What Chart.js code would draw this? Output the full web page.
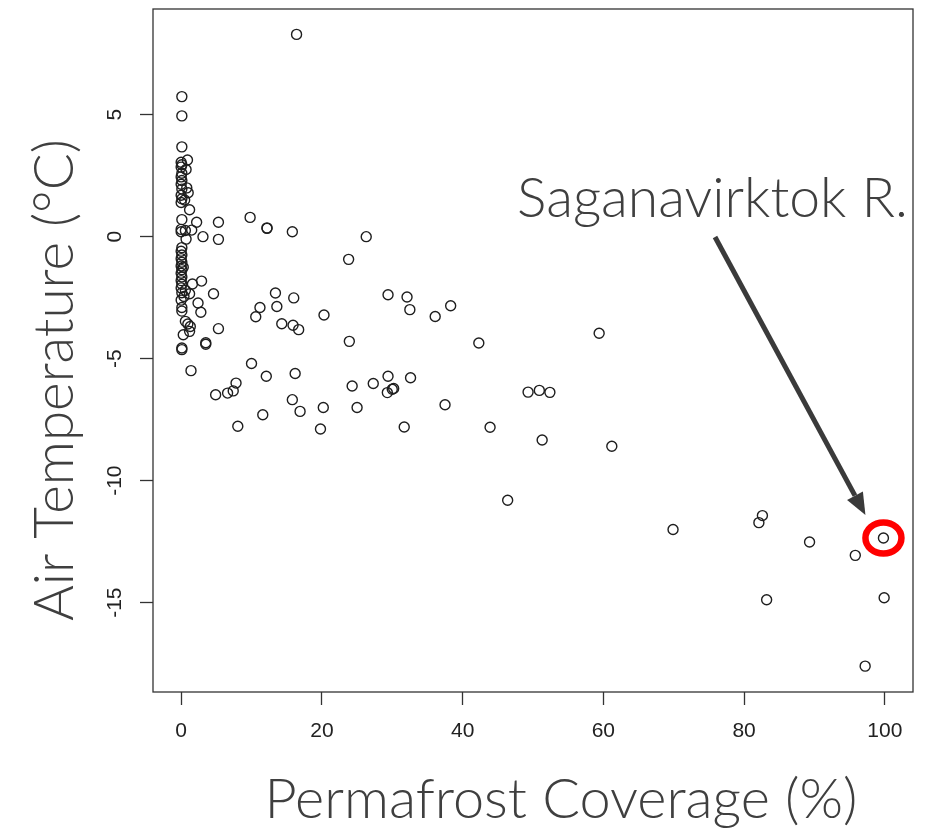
<!DOCTYPE html>
<html>
<head>
<meta charset="utf-8">
<script src="https://cdn.jsdelivr.net/npm/chart.js@4/dist/chart.umd.min.js"></script>
<style>
html,body{margin:0;padding:0;background:#fff;}
#wrap{width:930px;height:830px;}
</style>
</head>
<body>
<div id="wrap"><canvas id="c" width="930" height="830"></canvas></div>
<script>
// ---- data ----
const permafrost = [
  0.1,0.1,0.1,0.9,0.0,0.1,0.0,0.7,0.1,0.0,0.1,0.0,0.8,0.1,1.0,0.0,0.1,0.5,0.0,1.2,
  0.1,0.0,0.6,0.0,0.7,0.1,0.0,0.1,0.0,0.1,0.0,0.3,0.1,0.0,0.1,0.0,0.1,0.0,0.6,0.1,
  0.4,0.0,0.1,0.1,0.3,0.1,0.1,
  1.6,1.2,2.4,2.8,0.6,0.95,1.3,1.2,1.4,2.2,3.1,1.5,2.9,4.6,5.3,3.5,3.5,5.3,5.3,
  16.4,9.8,12.2,12.2,15.8,26.3,23.8,
  10.0,12.1,16.2,7.8,7.4,6.6,4.9,15.8,16.9,11.6,8.05,20.2,19.8,24.3,25.0,27.3,29.4,29.3,30.2,30.0,
  32.6,31.7,37.5,23.9,20.3,13.4,16.0,11.2,13.6,10.6,14.3,15.9,16.7,29.4,32.1,32.5,36.1,38.3,
  42.3,59.4,43.9,49.3,50.9,52.4,51.3,61.2,46.4,69.9,82.6,82.1,89.3,99.8,95.8,83.2,99.9,97.2
];
const airTemp = [
  5.74,4.95,3.68,3.14,3.05,2.95,2.85,2.75,2.6,2.45,2.3,2.15,2.0,1.95,1.8,1.7,1.55,1.5,1.4,1.1,
  0.7,0.3,0.25,0.2,-0.1,-0.45,-0.6,-0.75,-0.9,-1.05,-1.2,-1.25,-1.35,-1.5,-1.65,-1.8,-1.95,-2.1,-2.2,-2.3,
  -2.45,-2.6,-2.9,-3.05,-4.02,-4.56,-4.63,
  -1.94,-2.34,-2.72,-3.1,-3.47,-3.58,-3.68,-3.88,-5.49,0.59,0.0,0.27,-1.82,-2.34,-3.77,-4.35,-4.41,0.59,-0.11,
  8.29,0.79,0.34,0.36,0.2,0.0,-0.93,
  -5.2,-5.72,-5.61,-6.0,-6.32,-6.41,-6.48,-6.68,-7.16,-7.3,-7.77,-7.0,-7.88,-6.12,-7.0,-6.02,-5.72,-6.39,-6.22,-6.25,
  -5.78,-7.8,-6.89,-4.29,-3.21,-2.31,-2.51,-2.9,-2.86,-3.28,-3.57,-3.63,-3.81,-2.38,-2.47,-2.99,-3.27,-2.83,
  -4.36,-3.96,-7.81,-6.37,-6.3,-6.38,-8.33,-8.59,-10.8,-12.0,-11.43,-11.72,-12.51,-12.35,-13.06,-14.88,-14.8,-17.6
];
const xTickValues = [0, 20, 40, 60, 80, 100];
const yTickValues = [-15, -10, -5, 0, 5];
const xTitle = 'Permafrost Coverage (%)';
const yTitle = 'Air Temperature (°C)';
const highlightLabel = 'Saganavirktok R.';
const highlightX = [99.8];
const highlightY = [-12.35];

const points = permafrost.map((v, i) => ({x: v, y: airTemp[i]}));

const TITLE_FONT = '"Lato", "Open Sans", "DejaVu Sans", sans-serif';
const TEXT_COLOR = '#3f3f3f';

function fitSize(ctx, text, weight, family, target) {
  ctx.font = weight + ' 100px ' + family;
  return 100 * target / ctx.measureText(text).width;
}

const annotations = {
  id: 'annotations',
  afterDraw(chart) {
    const {ctx, chartArea: a, scales: {x, y}} = chart;
    ctx.save();
    // plot box
    ctx.strokeStyle = '#333';
    ctx.lineWidth = 1.3;
    ctx.strokeRect(a.left, a.top, a.right - a.left, a.bottom - a.top);

    ctx.fillStyle = TEXT_COLOR;
    // x title
    let s = fitSize(ctx, xTitle, '300', TITLE_FONT, 593);
    ctx.font = '300 ' + s + 'px ' + TITLE_FONT;
    ctx.textAlign = 'center';
    ctx.textBaseline = 'alphabetic';
    ctx.fillText(xTitle, 561, 818);

    // y title
    s = fitSize(ctx, yTitle, '300', TITLE_FONT, 482);
    ctx.font = '300 ' + s + 'px ' + TITLE_FONT;
    ctx.save();
    ctx.translate(73, 380);
    ctx.rotate(-Math.PI / 2);
    ctx.textAlign = 'center';
    ctx.fillText(yTitle, 0, 0);
    ctx.restore();

    // highlight label
    s = fitSize(ctx, highlightLabel, '300', TITLE_FONT, 391);
    ctx.font = '300 ' + s + 'px ' + TITLE_FONT;
    ctx.textAlign = 'left';
    ctx.fillText(highlightLabel, 517, 217);

    // red ring around highlighted point
    const px = x.getPixelForValue(highlightX[0]);
    const py = y.getPixelForValue(highlightY[0]);
    ctx.strokeStyle = '#ff0000';
    ctx.lineWidth = 6.5;
    ctx.beginPath();
    ctx.ellipse(px, py, 18, 15.5, 0, 0, Math.PI * 2);
    ctx.stroke();

    // arrow
    const sx = 715, sy = 237;
    const tx = px - 18, ty = py - 23;
    const ang = Math.atan2(ty - sy, tx - sx);
    const headLen = 22, headHalf = 9;
    const bx = tx - headLen * Math.cos(ang), by = ty - headLen * Math.sin(ang);
    ctx.strokeStyle = '#3a3a3a';
    ctx.fillStyle = '#3a3a3a';
    ctx.lineWidth = 5;
    ctx.beginPath();
    ctx.moveTo(sx, sy);
    ctx.lineTo(bx, by);
    ctx.stroke();
    ctx.beginPath();
    ctx.moveTo(tx, ty);
    ctx.lineTo(bx + headHalf * Math.sin(ang), by - headHalf * Math.cos(ang));
    ctx.lineTo(bx - headHalf * Math.sin(ang), by + headHalf * Math.cos(ang));
    ctx.closePath();
    ctx.fill();
    ctx.restore();
  }
};

new Chart(document.getElementById('c'), {
  type: 'scatter',
  data: {
    datasets: [{
      data: points,
      pointStyle: 'circle',
      pointRadius: 5,
      pointBorderWidth: 1.4,
      borderColor: '#1e1e1e',
      backgroundColor: 'rgba(0,0,0,0)',
      pointBackgroundColor: 'rgba(0,0,0,0)'
    }]
  },
  options: {
    responsive: false,
    animation: false,
    devicePixelRatio: 1,
    events: [],
    layout: {padding: {top: 9, right: 17, left: 0, bottom: 0}},
    plugins: {legend: {display: false}, tooltip: {enabled: false}},
    scales: {
      x: {
        type: 'linear',
        min: -4, max: 104,
        afterBuildTicks: s => { s.ticks = xTickValues.map(v => ({value: v})); },
        afterFit: s => { s.height = 138; s.paddingLeft = 0; s.paddingRight = 0; },
        border: {display: false},
        grid: {display: true, drawOnChartArea: false, drawTicks: true, tickLength: 13, tickColor: '#333', tickWidth: 1.3},
        ticks: {autoSkip: false, maxRotation: 0, minRotation: 0, padding: 14, color: '#222',
                font: {family: '"Liberation Sans", Arial, sans-serif', size: 21}}
      },
      y: {
        type: 'linear',
        min: -18.66, max: 9.33,
        afterBuildTicks: s => { s.ticks = yTickValues.map(v => ({value: v})); },
        afterFit: s => { s.width = 153; s.paddingTop = 0; s.paddingBottom = 0; },
        border: {display: false},
        grid: {display: true, drawOnChartArea: false, drawTicks: true, tickLength: 13, tickColor: '#333', tickWidth: 1.3},
        ticks: {autoSkip: false, minRotation: 90, maxRotation: 90, crossAlign: 'center', padding: 10, color: '#222',
                font: {family: '"Liberation Sans", Arial, sans-serif', size: 21}}
      }
    }
  },
  plugins: [annotations]
});
</script>
</body>
</html>
